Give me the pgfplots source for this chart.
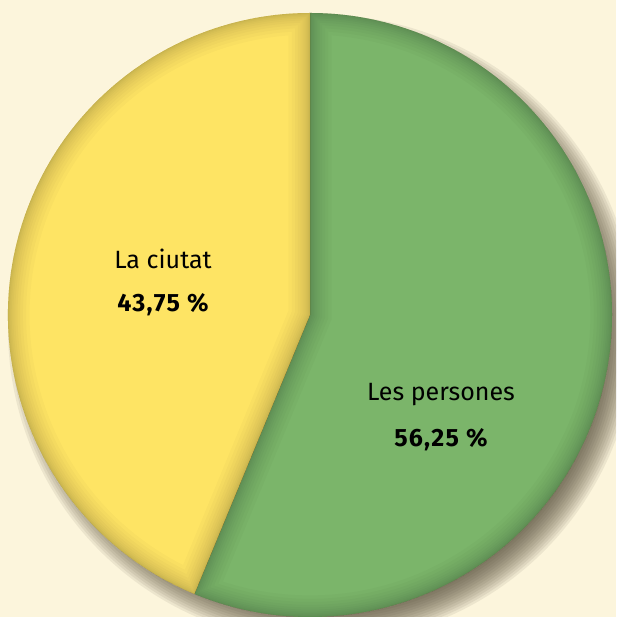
\documentclass[border=0pt]{standalone}
\usepackage{pgfplots}
\pgfplotsset{compat=1.18}
\usepackage{pgfplotstable}
\usepackage{fontspec}
\setmainfont{Fira Sans}
\definecolor{bg}{HTML}{FCF5DC}
\definecolor{pyellow}{HTML}{FEE464}
\definecolor{pgreen}{HTML}{7BB56A}
\definecolor{shadowc}{HTML}{4A4232}
\pgfplotstableread{
value
56.25
43.75
}\piedata
\begin{document}
\begin{tikzpicture}
\pgfplotstablegetelem{0}{value}\of\piedata \let\vA\pgfplotsretval
\pgfplotstablegetelem{1}{value}\of\piedata \let\vB\pgfplotsretval
\pgfmathsetmacro\aStart{90}
\pgfmathsetmacro\aMid{90-3.6*\vA}
\pgfmathsetmacro\aEnd{\aMid-3.6*\vB}
\begin{axis}[width=616pt,height=617pt,scale only axis,xmin=0,xmax=616,ymin=0,ymax=617,hide axis,clip=true]
\fill[bg] (axis cs:0,0) rectangle (axis cs:616,617);
% drop shadow
\pgfplotsinvokeforeach{0,...,13}{
  \fill[shadowc, opacity=0.085] (axis cs:322,288) circle[radius={(314-2.4*#1)*1pt}];
}
% sectors
\fill[pgreen] (axis cs:310,302) -- ++(\aStart:302pt) arc[start angle=\aStart, end angle=\aMid, radius=302pt] -- cycle;
\fill[pyellow] (axis cs:310,302) -- ++(\aMid:302pt) arc[start angle=\aMid, end angle=\aEnd, radius=302pt] -- cycle;
% inner shading
\begin{scope}
\clip (axis cs:310,302) -- ++(\aStart:302pt) arc[start angle=\aStart, end angle=\aMid, radius=302pt] -- cycle;
\pgfplotsinvokeforeach{1,...,12}{
  \draw[black, opacity=0.02, line width={#1*#1*0.3pt}] (axis cs:310,302) -- ++(\aStart:302pt) arc[start angle=\aStart, end angle=\aMid, radius=302pt] -- cycle;
}
\end{scope}
\begin{scope}
\clip (axis cs:310,302) -- ++(\aMid:302pt) arc[start angle=\aMid, end angle=\aEnd, radius=302pt] -- cycle;
\pgfplotsinvokeforeach{1,...,12}{
  \draw[black, opacity=0.02, line width={#1*#1*0.3pt}] (axis cs:310,302) -- ++(\aMid:302pt) arc[start angle=\aMid, end angle=\aEnd, radius=302pt] -- cycle;
}
\end{scope}
% labels
\node[font=\fontsize{25}{28}\selectfont, anchor=base] at (axis cs:163,348) {La ciutat};
\node[font=\fontsize{25}{28}\selectfont\bfseries\addfontfeatures{LetterSpace=5}, anchor=base] at (axis cs:163,305) {43,75 \%};
\node[font=\fontsize{25}{28}\selectfont, anchor=base] at (axis cs:441,216) {Les persones};
\node[font=\fontsize{25}{28}\selectfont\bfseries\addfontfeatures{LetterSpace=5}, anchor=base] at (axis cs:441,170) {56,25 \%};
\end{axis}
\end{tikzpicture}
\end{document}
